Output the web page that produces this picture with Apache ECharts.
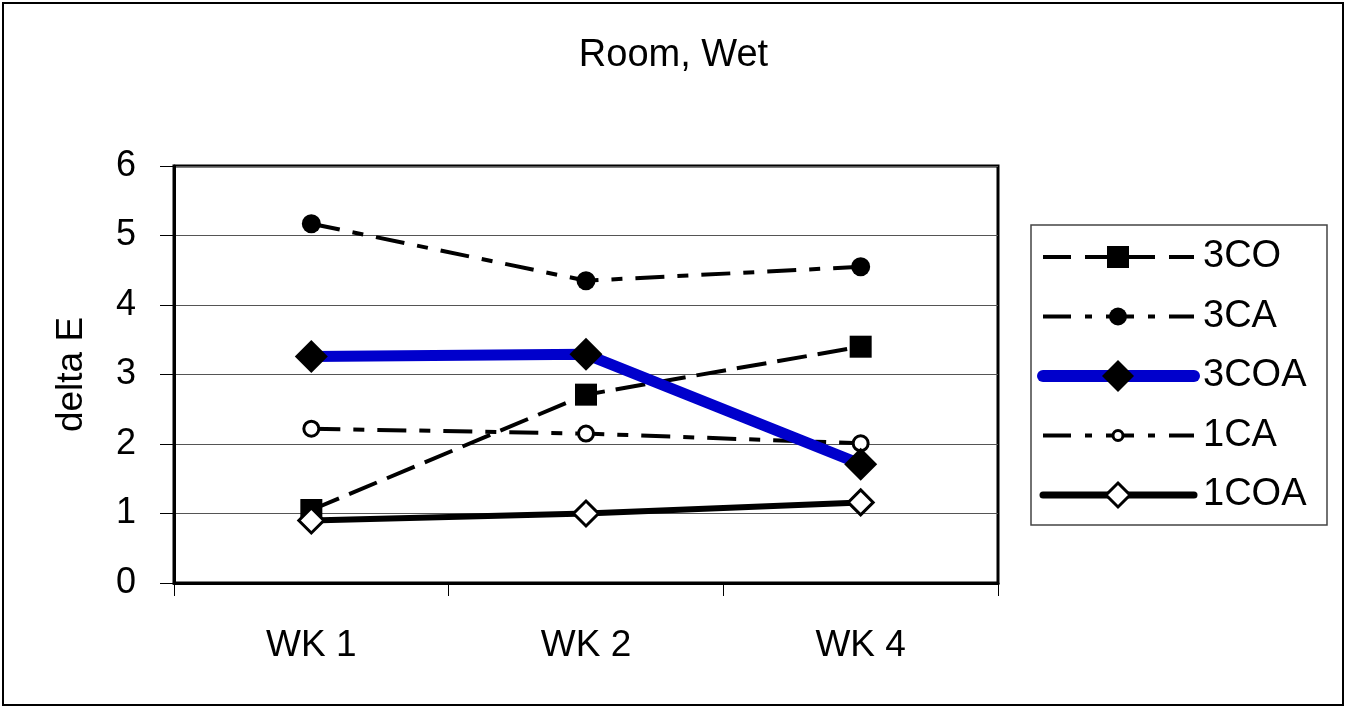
<!DOCTYPE html>
<html><head><meta charset="utf-8">
<script src="https://cdn.jsdelivr.net/npm/echarts@6/dist/echarts.min.js"></script>
<style>html,body{margin:0;padding:0;background:#fff}#c{width:1347px;height:709px}</style>
</head><body><div id="c"></div>
<script>
const categories = ['WK 1', 'WK 2', 'WK 4'];
const seriesNames = ['3CO', '3CA', '3COA', '1CA', '1COA'];
const s3CO = [1.05, 2.71, 3.40];
const s3CA = [5.17, 4.35, 4.55];
const s3COA = [3.26, 3.29, 1.71];
const s1CA = [2.22, 2.15, 2.01];
const s1COA = [0.90, 1.00, 1.16];
const yTicks = [0, 1, 2, 3, 4, 5, 6];

const font = 'Liberation Sans, Arial, sans-serif';
const dashA = [30, 11];
const dashB = [29, 13, 11, 13];

// Legend drawn with graphic elements (line sample + marker + label)
const legendStyles = [
  { line: { stroke: '#000', lineWidth: 4, lineDash: [28, 14], lineCap: 'butt' }, sym: 'rect', size: 22, fill: '#000', stroke: null },
  { line: { stroke: '#000', lineWidth: 4, lineDash: [28, 14, 7, 14], lineCap: 'butt' }, sym: 'circle', size: 18, fill: '#000', stroke: null },
  { line: { stroke: '#0000CC', lineWidth: 12, lineCap: 'round' }, sym: 'diamond', size: 32, fill: '#000', stroke: null },
  { line: { stroke: '#000', lineWidth: 4, lineDash: [28, 14, 7, 14], lineCap: 'butt' }, sym: 'circle', size: 10, fill: '#fff', stroke: '#000' },
  { line: { stroke: '#000', lineWidth: 7, lineCap: 'round' }, sym: 'diamond', size: 24, fill: '#fff', stroke: '#000' }
];
const legendGraphic = [];
legendGraphic.push({ type: 'rect', shape: { x: 1031, y: 225, width: 296, height: 300 }, silent: true,
  style: { fill: '#fff', stroke: '#444', lineWidth: 1.5 } });
seriesNames.forEach((name, i) => {
  const st = legendStyles[i];
  const cy = 257 + i * 59.5;
  const x0 = 1043, x1 = 1194, cx = 1118;
  legendGraphic.push({ type: 'line', shape: { x1: x0, y1: cy, x2: x1, y2: cy }, silent: true, z: 10, style: st.line });
  const symStyle = { fill: st.fill, stroke: st.stroke || null, lineWidth: st.stroke ? 3 : 0 };
  const h = st.size / 2;
  if (st.sym === 'rect') {
    legendGraphic.push({ type: 'rect', shape: { x: cx - h, y: cy - h, width: st.size, height: st.size }, z: 11, silent: true, style: symStyle });
  } else if (st.sym === 'circle') {
    legendGraphic.push({ type: 'circle', shape: { cx: cx, cy: cy, r: h }, z: 11, silent: true, style: symStyle });
  } else {
    legendGraphic.push({ type: 'polygon', shape: { points: [[cx, cy - h], [cx + h, cy], [cx, cy + h], [cx - h, cy]] }, z: 11, silent: true, style: symStyle });
  }
  legendGraphic.push({ type: 'text', x: 1203, y: cy, z: 11, silent: true,
    style: { text: name, font: '38px ' + font, fill: '#000', textVerticalAlign: 'middle', textAlign: 'left' } });
});

const chart = echarts.init(document.getElementById('c'));
chart.setOption({
  animation: false,
  backgroundColor: '#fff',
  title: { text: 'Room, Wet', left: 'center', top: 32,
    textStyle: { fontFamily: font, fontSize: 38, fontWeight: 'normal', color: '#000' } },
  grid: { left: 174, top: 166, right: 349, bottom: 126, show: true, borderColor: '#000', borderWidth: 3 },
  xAxis: {
    type: 'category', data: categories, boundaryGap: true,
    axisLine: { lineStyle: { color: '#000', width: 3 } },
    axisTick: { show: true, length: 13, lineStyle: { color: '#000', width: 1 } },
    axisLabel: { fontFamily: font, fontSize: 37, color: '#000', margin: 44 }
  },
  yAxis: {
    type: 'value', min: 0, max: 6, interval: 1, name: 'delta E', nameLocation: 'middle', nameGap: 84,
    nameTextStyle: { fontFamily: font, fontSize: 37, color: '#000' },
    axisLine: { show: true, lineStyle: { color: '#000', width: 3 } },
    axisTick: { show: true, length: 14, lineStyle: { color: '#000', width: 1 } },
    axisLabel: { fontFamily: font, fontSize: 36, color: '#000', margin: 38,
      formatter: v => yTicks.includes(v) ? String(v) : '' },
    splitLine: { show: true, lineStyle: { color: '#555', width: 1 } }
  },
  series: [
    { name: seriesNames[0], type: 'line', data: s3CO, symbol: 'rect', symbolSize: 22, z: 3,
      lineStyle: { color: '#000', width: 4, type: dashA }, itemStyle: { color: '#000' } },
    { name: seriesNames[1], type: 'line', data: s3CA, symbol: 'circle', symbolSize: 19, z: 3,
      lineStyle: { color: '#000', width: 4, type: dashB }, itemStyle: { color: '#000' } },
    { name: seriesNames[2], type: 'line', data: s3COA, symbol: 'diamond', symbolSize: 33, z: 4,
      lineStyle: { color: '#0000CC', width: 11 }, itemStyle: { color: '#000' } },
    { name: seriesNames[3], type: 'line', data: s1CA, symbol: 'circle', symbolSize: 15, z: 3,
      lineStyle: { color: '#000', width: 4, type: dashB },
      itemStyle: { color: '#fff', borderColor: '#000', borderWidth: 3 } },
    { name: seriesNames[4], type: 'line', data: s1COA, symbol: 'diamond', symbolSize: 25, z: 5,
      lineStyle: { color: '#000', width: 6 },
      itemStyle: { color: '#fff', borderColor: '#000', borderWidth: 3 } }
  ],
  graphic: [{ type: 'rect', shape: { x: 3, y: 3, width: 1340, height: 702 }, silent: true, z: -1,
    style: { fill: 'none', stroke: '#000', lineWidth: 2 } }].concat(legendGraphic)
});
</script></body></html>
